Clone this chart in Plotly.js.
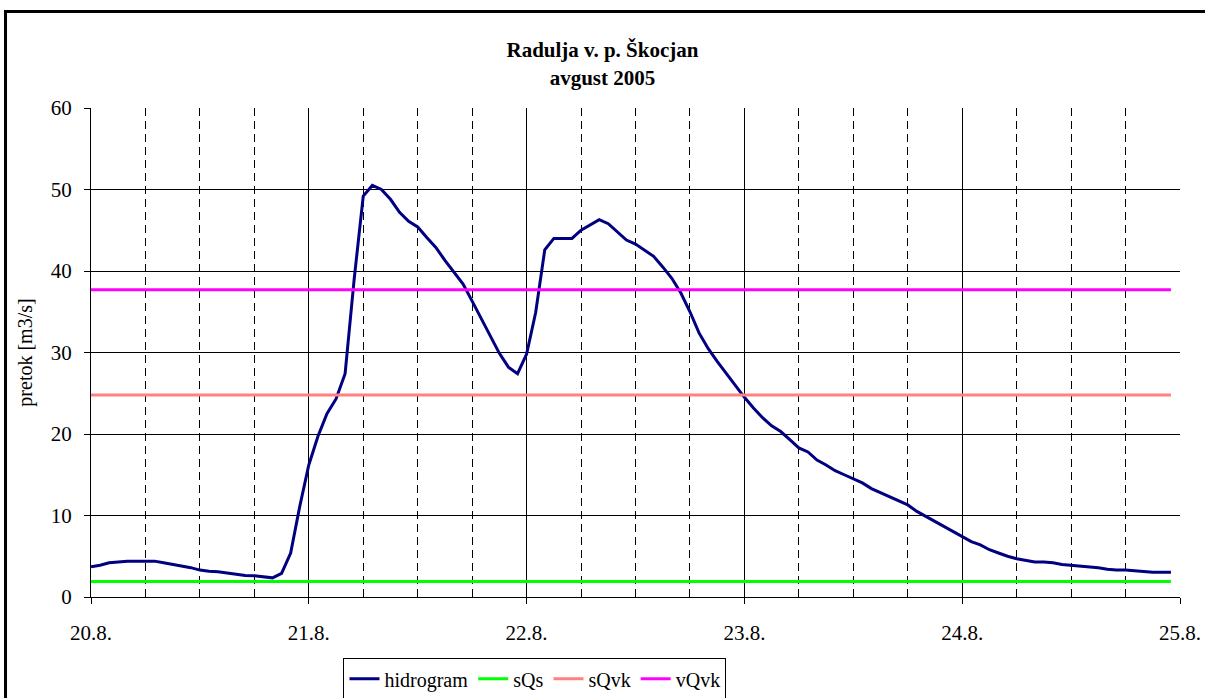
<!DOCTYPE html>
<html>
<head>
<meta charset="utf-8">
<script src="https://cdn.plot.ly/plotly-3.0.1.min.js"></script>
<style>
html,body{margin:0;padding:0;background:#fff;}
#chart{width:1205px;height:698px;}
</style>
</head>
<body>
<div id="chart"></div>
<script>
// hourly discharge from 20.8. 00h (index 0) to 24.8. 23h (index 119)
const hidrogram = [
  3.7, 3.9, 4.2, 4.3, 4.4, 4.4, 4.4, 4.4, 4.2, 4.0,
  3.8, 3.6, 3.3, 3.15, 3.1, 2.95, 2.8, 2.65, 2.6, 2.5,
  2.35, 2.9, 5.4, 11.1, 16.2, 19.7, 22.5, 24.3, 27.4, 39.0,
  49.2, 50.5, 50.0, 48.8, 47.2, 46.1, 45.4, 44.1, 42.9, 41.3,
  39.8, 38.4, 36.3, 34.1, 32.1, 29.9, 28.2, 27.4, 29.8, 34.9,
  42.6, 44.0, 44.0, 44.0, 45.0, 45.7, 46.3, 45.8, 44.8, 43.8,
  43.3, 42.6, 41.8, 40.5, 39.1, 37.3, 35.0, 32.4, 30.5, 28.9,
  27.4, 25.9, 24.5, 23.2, 22.0, 21.0, 20.3, 19.3, 18.3, 17.8,
  16.8, 16.2, 15.5, 15.0, 14.5, 14.0, 13.3, 12.8, 12.3, 11.8,
  11.3, 10.5, 9.9, 9.3, 8.7, 8.1, 7.5, 6.8, 6.4, 5.8,
  5.4, 5.0, 4.7, 4.5, 4.3, 4.3, 4.2, 4.0, 3.9, 3.8,
  3.7, 3.6, 3.4, 3.3, 3.3, 3.2, 3.1, 3.05, 3.05, 3.05
];
const sQs = 1.9;
const sQvk = 24.8;
const vQvk = 37.7;
const tickHours = [0, 24, 48, 72, 96, 120];
const tickLabels = ['20.8.', '21.8.', '22.8.', '23.8.', '24.8.', '25.8.'];

const hours = hidrogram.map((_, i) => i);
const firstHour = hours[0];
const lastHour = hours[hours.length - 1];

const serif = 'Liberation Serif';

const traces = [
  {x: hours, y: hidrogram, name: 'hidrogram', mode: 'lines',
   line: {color: '#000080', width: 3}},
  {x: [firstHour, lastHour], y: [sQs, sQs], name: 'sQs', mode: 'lines',
   line: {color: '#00FF00', width: 3}},
  {x: [firstHour, lastHour], y: [sQvk, sQvk], name: 'sQvk', mode: 'lines',
   line: {color: '#FF8080', width: 3}},
  {x: [firstHour, lastHour], y: [vQvk, vQvk], name: 'vQvk', mode: 'lines',
   line: {color: '#FF00FF', width: 3}}
];

const layout = {
  width: 1205, height: 698,
  paper_bgcolor: '#fff', plot_bgcolor: '#fff',
  margin: {l: 91, r: 25, t: 108, b: 101},
  font: {family: serif, size: 21, color: '#000'},
  title: {
    text: '<b>Radulja v. p. Škocjan</b><br><b>avgust 2005</b>',
    font: {family: serif, size: 21, color: '#000', weight: 'bold'},
    xref: 'container', x: 0.5, xanchor: 'center',
    yref: 'container', y: 0.918, yanchor: 'middle'
  },
  showlegend: true,
  legend: {
    orientation: 'h', xref: 'paper', x: 0.4077, xanchor: 'center',
    yref: 'container', y: 0.057, yanchor: 'top',
    bordercolor: '#000', borderwidth: 1, bgcolor: '#fff',
    font: {family: serif, size: 20, color: '#000'},
    itemwidth: 30, tracegroupgap: 0
  },
  xaxis: {
    range: [0, 120],
    tickmode: 'array', tickvals: tickHours, ticktext: tickLabels,
    showgrid: true, gridcolor: '#000', gridwidth: 1,
    showline: true, linecolor: '#000', linewidth: 1,
    ticks: 'outside', ticklen: 6, tickcolor: '#000',
    ticklabelstandoff: 11,
    zeroline: false, automargin: false,
    minor: {tickmode: 'linear', tick0: 0, dtick: 6, showgrid: true,
            gridcolor: '#000', gridwidth: 1, griddash: '8px,5px', ticks: ''},
    tickfont: {family: serif, size: 21, color: '#000'},
    fixedrange: true
  },
  yaxis: {
    range: [0, 60], dtick: 10, tick0: 0,
    showgrid: true, gridcolor: '#000', gridwidth: 1,
    showline: true, linecolor: '#000', linewidth: 1,
    ticks: 'outside', ticklen: 6, tickcolor: '#000',
    ticklabelstandoff: 8,
    zeroline: false, automargin: false,
    title: {text: 'pretok [m3/s]', font: {family: serif, size: 20, color: '#000'}, standoff: 12},
    tickfont: {family: serif, size: 21, color: '#000'},
    fixedrange: true
  },
  shapes: [
    {type: 'rect', xref: 'paper', yref: 'paper',
     x0: -0.0785, x1: 1.2, y0: -0.4, y1: 1.1973,
     line: {color: '#000', width: 3}, fillcolor: 'rgba(0,0,0,0)', layer: 'above'}
  ]
};

Plotly.newPlot('chart', traces, layout, {displayModeBar: false, staticPlot: true});
</script>
</body>
</html>
